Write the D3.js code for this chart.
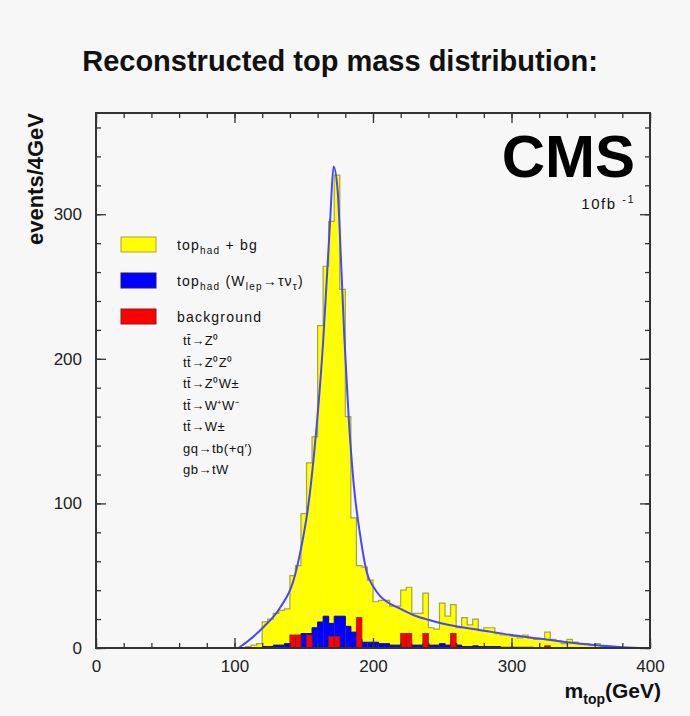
<!DOCTYPE html>
<html>
<head>
<meta charset="utf-8">
<script src="https://cdn.jsdelivr.net/npm/d3@7/dist/d3.min.js"></script>
<style>
  body { margin: 0; background: #f7f7f7; }
  svg { display: block; font-family: "Liberation Sans", Arial, Helvetica, sans-serif; }
</style>
</head>
<body>
<svg id="chart" width="690" height="716"></svg>
<script>
// lower edges of the 4 GeV bins that carry entries (100 .. 396 GeV)
const binEdges = d3.range(100, 400, 4)
const binWidth = 4

// top_had + bg (yellow)
const totalCounts = [
  0, 0, 1, 2, 3, 18, 20, 24, 26, 27,
  50, 57, 93, 128, 146, 223, 264, 295, 327, 248,
  160, 90, 57, 56, 47, 32, 33, 33, 29, 29,
  40, 42, 24, 24, 38, 14, 13, 31, 22, 30,
  14, 21, 16, 20, 12, 14, 14, 10, 9, 9,
  8, 7, 9, 7, 6, 6, 11, 6, 5, 3,
  6, 4, 3, 3, 2, 3, 1, 1, 1, 0.5,
  0.5, 0, 0, 0, 0
]

// top_had (W_lep -> tau nu) (blue)
const tauCounts = [
  0, 0, 0, 0, 0, 1, 1, 2, 2, 3,
  3, 6, 10, 10, 14, 18, 22, 17, 22, 22,
  15, 11, 6, 4, 4, 4, 3, 3, 2, 2,
  3, 3, 2, 2, 3, 2, 2, 3, 2, 3,
  2, 1, 1, 1.5, 1, 1, 1, 1, 0.5, 0.5,
  0.5, 0.5, 0.5, 0.5, 0.3, 0.3, 0.3, 0.3, 0, 0,
  0, 0, 0, 0, 0, 0, 0, 0, 0, 0,
  0, 0, 0, 0, 0
]

// background (red)
const bgCounts = [
  0, 0, 0, 0, 0, 0, 0, 0, 0, 0,
  9, 9, 0, 9, 0, 0, 0, 8, 8, 0,
  0, 0, 21, 0, 0, 0, 0, 0, 0, 0,
  10, 10, 0, 0, 10, 0, 0, 0, 0, 10,
  0, 0, 0, 0, 0, 0, 0, 0, 0, 0,
  0, 0, 0, 0, 0, 0, 1.5, 0, 0, 0,
  0, 0, 0, 0, 0, 0, 0, 0, 0, 0,
  0, 0, 0, 0, 0
]

// fit curve: [m_top GeV, events]
const fitCurve = [
  [103, 0], [110, 5], [121, 14.5], [133, 28], [142.6, 46.7], [148.7, 72],
  [153.5, 100], [157, 130], [160.7, 169], [164, 212], [166.8, 258], [169.2, 298],
  [171.5, 333], [174.5, 316], [176.9, 268], [179.3, 215], [182.4, 160], [186, 114],
  [190.9, 77], [195.6, 52], [200.5, 42], [205, 36], [210, 32], [220, 27],
  [230, 22.5], [240, 19.5], [250, 17], [260, 15], [270, 13.5], [280, 12],
  [300, 9], [320, 6.5], [340, 4], [360, 2], [380, 0.5], [392, 0]
]

const xMajor = [0, 100, 200, 300, 400]
const yMajor = [0, 100, 200, 300]
const xMinor = d3.range(0, 401, 20)
const yMinor = d3.range(0, 361, 20)

const legendBoxes = [
  { color: '#ffff00', stroke: '#a6a63a', parts: [['top'], ['had', 'sub'], [' + bg']] },
  { color: '#0000ff', stroke: '#1a1a8a', parts: [['top'], ['had', 'sub'], [' (W'], ['lep', 'sub'], ['\u2192\u03c4\u03bd'], ['\u03c4', 'sub'], [')']] },
  { color: '#ff0000', stroke: '#8a1a1a', parts: [['background']] }
]
const bgProcesses = [
  'tt\u0304\u2192Z\u2070',
  'tt\u0304\u2192Z\u2070Z\u2070',
  'tt\u0304\u2192Z\u2070W\u00b1',
  'tt\u0304\u2192W\u207aW\u207b',
  'tt\u0304\u2192W\u00b1',
  'gq\u2192tb(+q\u2032)',
  'gb\u2192tW'
]

const svg = d3.select('#chart')
const plot = { left: 96, right: 650, top: 113, bottom: 648 }

const x = d3.scaleLinear().domain([0, 400]).range([plot.left, plot.right])
const y = d3.scaleLinear().domain([0, 370]).range([plot.bottom, plot.top])

svg.append('rect')
  .attr('width', 690).attr('height', 716)
  .attr('fill', '#f7f7f7')

// title
svg.append('text')
  .attr('x', 340).attr('y', 71)
  .attr('text-anchor', 'middle')
  .attr('font-size', 29).attr('font-weight', 'bold')
  .attr('fill', '#111')
  .text('Reconstructed top mass distribution:')

const bins = binEdges.map((lo, i) => ({
  lo: lo, hi: lo + binWidth,
  total: totalCounts[i], tau: tauCounts[i], bg: bgCounts[i]
}))

const g = svg.append('g')

// yellow histogram
g.append('g').selectAll('rect')
  .data(bins.filter(d => d.total > 0))
  .enter().append('rect')
  .attr('x', d => x(d.lo))
  .attr('width', d => x(d.hi) - x(d.lo) + 0.3)
  .attr('y', d => y(d.total))
  .attr('height', d => y(0) - y(d.total))
  .attr('fill', '#ffff00')

const step = d3.line()
  .x(d => x(d[0]))
  .y(d => y(d[1]))
  .curve(d3.curveStepAfter)

function outline(key) {
  const pts = bins.map(d => [d.lo, d[key]])
  pts.push([400, 0])
  return [[bins[0].lo, 0]].concat(pts)
}

g.append('path')
  .attr('d', step(outline('total')))
  .attr('fill', 'none')
  .attr('stroke', '#a6a63a')
  .attr('stroke-width', 1.2)

// blue histogram
g.append('g').selectAll('rect')
  .data(bins.filter(d => d.tau > 0))
  .enter().append('rect')
  .attr('x', d => x(d.lo))
  .attr('width', d => x(d.hi) - x(d.lo) + 0.3)
  .attr('y', d => y(d.tau))
  .attr('height', d => y(0) - y(d.tau))
  .attr('fill', '#0000ff')

g.append('path')
  .attr('d', step(outline('tau')))
  .attr('fill', 'none')
  .attr('stroke', '#10107a')
  .attr('stroke-width', 1)

// red background bars
g.append('g').selectAll('rect')
  .data(bins.filter(d => d.bg > 0))
  .enter().append('rect')
  .attr('x', d => x(d.lo))
  .attr('width', d => x(d.hi) - x(d.lo))
  .attr('y', d => y(d.bg))
  .attr('height', d => y(0) - y(d.bg))
  .attr('fill', '#ff0000')
  .attr('stroke', '#8a1a1a')
  .attr('stroke-width', 0.8)

// fit curve
g.append('path')
  .attr('d', d3.line().x(d => x(d[0])).y(d => y(d[1])).curve(d3.curveMonotoneX)(fitCurve))
  .attr('fill', 'none')
  .attr('stroke', '#4646ff')
  .attr('stroke-width', 2)

// axes, ROOT style: ticks inside on all four sides
function styleAxis(sel) {
  sel.select('.domain').remove()
  sel.selectAll('.tick line').attr('stroke', '#333').attr('stroke-width', 1.3)
  sel.selectAll('.tick text')
    .attr('font-size', 17)
    .attr('fill', '#222')
}

svg.append('g').attr('transform', `translate(0,${plot.bottom})`)
  .call(d3.axisBottom(x).tickValues(xMajor).tickSizeInner(-10).tickSizeOuter(0).tickPadding(12))
  .call(styleAxis)
svg.append('g').attr('transform', `translate(0,${plot.bottom})`)
  .call(d3.axisBottom(x).tickValues(xMinor).tickSize(-5).tickFormat(''))
  .call(styleAxis)
svg.append('g').attr('transform', `translate(0,${plot.top})`)
  .call(d3.axisTop(x).tickValues(xMajor).tickSize(-10).tickFormat(''))
  .call(styleAxis)
svg.append('g').attr('transform', `translate(0,${plot.top})`)
  .call(d3.axisTop(x).tickValues(xMinor).tickSize(-5).tickFormat(''))
  .call(styleAxis)

svg.append('g').attr('transform', `translate(${plot.left},0)`)
  .call(d3.axisLeft(y).tickValues(yMajor).tickSizeInner(-10).tickSizeOuter(0).tickPadding(14))
  .call(styleAxis)
svg.append('g').attr('transform', `translate(${plot.left},0)`)
  .call(d3.axisLeft(y).tickValues(yMinor).tickSize(-5).tickFormat(''))
  .call(styleAxis)
svg.append('g').attr('transform', `translate(${plot.right},0)`)
  .call(d3.axisRight(y).tickValues(yMajor).tickSize(-10).tickFormat(''))
  .call(styleAxis)
svg.append('g').attr('transform', `translate(${plot.right},0)`)
  .call(d3.axisRight(y).tickValues(yMinor).tickSize(-5).tickFormat(''))
  .call(styleAxis)

svg.append('rect')
  .attr('x', plot.left).attr('y', plot.top)
  .attr('width', plot.right - plot.left).attr('height', plot.bottom - plot.top)
  .attr('fill', 'none')
  .attr('stroke', '#333')
  .attr('stroke-width', 2)

// axis titles
svg.append('text')
  .attr('transform', 'translate(43,113) rotate(-90)')
  .attr('text-anchor', 'end')
  .attr('font-size', 22).attr('font-weight', 'bold')
  .attr('fill', '#111')
  .text('events/4GeV')

const xt = svg.append('text')
  .attr('x', 661).attr('y', 698)
  .attr('text-anchor', 'end')
  .attr('font-size', 21).attr('font-weight', 'bold')
  .attr('fill', '#111')
xt.append('tspan').text('m')
xt.append('tspan').attr('dy', 6).attr('font-size', 14).text('top')
xt.append('tspan').attr('dy', -6).text('(GeV)')

// CMS label
svg.append('text')
  .attr('x', 635).attr('y', 177)
  .attr('text-anchor', 'end')
  .attr('font-size', 60).attr('font-weight', 'bold')
  .attr('fill', '#000')
  .text('CMS')

const lumi = svg.append('text')
  .attr('x', 635).attr('y', 209)
  .attr('text-anchor', 'end')
  .attr('font-size', 15)
  .attr('letter-spacing', 1.5)
  .attr('fill', '#111')
lumi.append('tspan').text('10fb ')
lumi.append('tspan').attr('dy', -6).attr('font-size', 11).text('-1')

// legend
function richText(sel, parts) {
  let shift = 0
  parts.forEach(p => {
    const want = p[1] === 'sub' ? 4 : 0
    sel.append('tspan')
      .attr('dy', want - shift)
      .attr('font-size', p[1] === 'sub' ? 10 : 14)
      .text(p[0])
    shift = want
  })
}

const legend = svg.append('g').attr('transform', 'translate(121,237)')
legendBoxes.forEach((d, i) => {
  legend.append('rect')
    .attr('x', 0).attr('y', i * 36)
    .attr('width', 35).attr('height', 15)
    .attr('fill', d.color)
    .attr('stroke', d.stroke)
    .attr('stroke-width', 1)
  const t = legend.append('text')
    .attr('x', 56).attr('y', i * 36 + 13)
    .attr('letter-spacing', 1.2)
    .attr('fill', '#111')
  richText(t, d.parts)
})

legend.selectAll('text.proc')
  .data(bgProcesses)
  .enter().append('text')
  .attr('class', 'proc')
  .attr('x', 62)
  .attr('y', (d, i) => 108 + i * 21.5)
  .attr('font-size', 13)
  .attr('letter-spacing', 0.5)
  .attr('fill', '#111')
  .text(d => d)
</script>
</body>
</html>
